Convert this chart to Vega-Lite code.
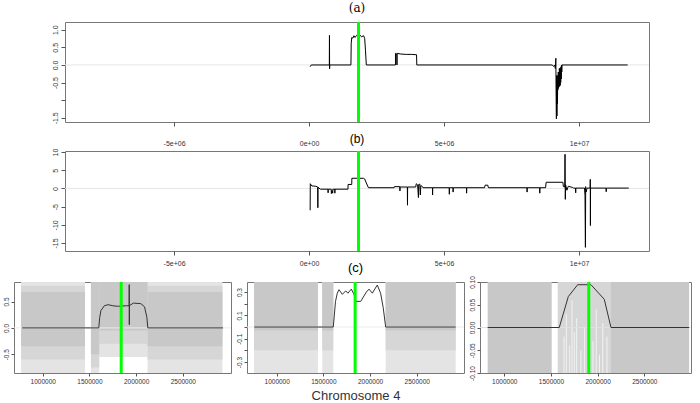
{
  "$schema": "https://vega.github.io/schema/vega-lite/v6.json",
  "padding": {"left": 2, "top": 1, "right": 0, "bottom": 0},
  "background": "white",
  "config": {
    "font": "Liberation Sans",
    "view": {"stroke": "#777777", "strokeWidth": 1},
    "axis": {"domain": false, "grid": false, "tickColor": "#555555", "tickSize": 4, "labelFontSize": 7, "labelColor": "#333333", "labelFont": "Liberation Sans", "title": null},
    "title": {"fontWeight": "normal", "color": "#000000", "font": "Liberation Sans"}
  },
  "datasets": {
    "zero": [{"y": 0}],
    "marker": [{"x": 1830000}],
    "marker_c": [{"x": 1840000}],
    "marker_c3": [{"x": 1905000}],
    "a_line": [
      {"x": 40000, "y": -0.05}, {"x": 80000, "y": 0}, {"x": 750000, "y": 0}, {"x": 755000, "y": 0.84}, {"x": 760000, "y": -0.11}, {"x": 765000, "y": 0},
      {"x": 1550000, "y": 0}, {"x": 1560000, "y": 0.6}, {"x": 1580000, "y": 0.78}, {"x": 1620000, "y": 0.76}, {"x": 1660000, "y": 0.83}, {"x": 1700000, "y": 0.78}, {"x": 1760000, "y": 0.84}, {"x": 1820000, "y": 0.8}, {"x": 1880000, "y": 0.85}, {"x": 1940000, "y": 0.8}, {"x": 2020000, "y": 0.83}, {"x": 2060000, "y": 0.75}, {"x": 2090000, "y": 0.4}, {"x": 2120000, "y": 0},
      {"x": 3200000, "y": 0}, {"x": 3201000, "y": 0.33}, {"x": 3220000, "y": 0.32}, {"x": 3250000, "y": 0.31}, {"x": 3255000, "y": 0}, {"x": 3260000, "y": 0.33}, {"x": 3400000, "y": 0.31}, {"x": 3600000, "y": 0.3}, {"x": 3800000, "y": 0.3}, {"x": 3980000, "y": 0.29}, {"x": 3990000, "y": 0},
      {"x": 9000000, "y": 0}, {"x": 9060000, "y": -0.04}, {"x": 9100000, "y": 0}, {"x": 9120000, "y": -0.1}, {"x": 9140000, "y": 0.19}, {"x": 9150000, "y": -0.9}, {"x": 9160000, "y": -1.53}, {"x": 9170000, "y": -0.3}, {"x": 9180000, "y": -1.45}, {"x": 9190000, "y": -0.5}, {"x": 9200000, "y": -1.1}, {"x": 9210000, "y": -0.3}, {"x": 9220000, "y": -0.7}, {"x": 9230000, "y": -0.2}, {"x": 9240000, "y": -0.65}, {"x": 9250000, "y": -0.2}, {"x": 9260000, "y": -0.62}, {"x": 9270000, "y": -0.1}, {"x": 9280000, "y": -0.6}, {"x": 9290000, "y": -0.1}, {"x": 9300000, "y": -0.58}, {"x": 9310000, "y": -0.1}, {"x": 9320000, "y": -0.5}, {"x": 9330000, "y": -0.05}, {"x": 9340000, "y": -0.4}, {"x": 9350000, "y": 0}, {"x": 9360000, "y": -0.2}, {"x": 9370000, "y": 0},
      {"x": 11800000, "y": 0}
    ],
    "b_line": [
      {"x": 40000, "y": -6.0}, {"x": 45000, "y": 1.3}, {"x": 100000, "y": 0.7}, {"x": 250000, "y": 0.6}, {"x": 320000, "y": 0.4}, {"x": 325000, "y": -5.3}, {"x": 330000, "y": 0.3}, {"x": 420000, "y": -0.2},
      {"x": 700000, "y": -0.2}, {"x": 705000, "y": -1.2}, {"x": 710000, "y": -0.2}, {"x": 820000, "y": -0.2}, {"x": 825000, "y": -1.4}, {"x": 850000, "y": -0.6}, {"x": 875000, "y": -1.3}, {"x": 880000, "y": -0.2}, {"x": 950000, "y": -0.2}, {"x": 955000, "y": -1.3}, {"x": 960000, "y": -0.2},
      {"x": 1440000, "y": -0.2}, {"x": 1445000, "y": 1.1}, {"x": 1580000, "y": 1.1}, {"x": 1585000, "y": 2.8}, {"x": 2020000, "y": 2.8}, {"x": 2060000, "y": 2.6}, {"x": 2120000, "y": 1.5}, {"x": 2200000, "y": 0.2},
      {"x": 3150000, "y": 0.2}, {"x": 3160000, "y": 0.5}, {"x": 3360000, "y": 0.5}, {"x": 3365000, "y": -0.7}, {"x": 3370000, "y": 0.4}, {"x": 3640000, "y": 0.4}, {"x": 3645000, "y": -4.6}, {"x": 3650000, "y": 0.4},
      {"x": 3950000, "y": 0.4}, {"x": 3970000, "y": 1.3}, {"x": 4020000, "y": 1.0}, {"x": 4050000, "y": -2.5}, {"x": 4060000, "y": 1.1}, {"x": 4100000, "y": 1.2}, {"x": 4120000, "y": -1.8}, {"x": 4140000, "y": 0.8}, {"x": 4200000, "y": 0.5}, {"x": 4220000, "y": 0.2},
      {"x": 4570000, "y": 0.2}, {"x": 4575000, "y": -1.8}, {"x": 4580000, "y": 0.2}, {"x": 5190000, "y": 0.2}, {"x": 5195000, "y": -1.6}, {"x": 5200000, "y": 0.2}, {"x": 5330000, "y": 0.2}, {"x": 5335000, "y": -1.0}, {"x": 5340000, "y": 0.2}, {"x": 5830000, "y": 0.2}, {"x": 5835000, "y": -1.3}, {"x": 5840000, "y": 0.2},
      {"x": 6500000, "y": 0.2}, {"x": 6520000, "y": 0.9}, {"x": 6620000, "y": 0.9}, {"x": 6640000, "y": 0.2},
      {"x": 8070000, "y": 0.2}, {"x": 8075000, "y": -1.0}, {"x": 8080000, "y": 0.2}, {"x": 8540000, "y": 0.2}, {"x": 8545000, "y": -1.3}, {"x": 8550000, "y": 0.2},
      {"x": 8760000, "y": 0.2}, {"x": 8780000, "y": 1.7}, {"x": 9400000, "y": 1.7}, {"x": 9420000, "y": 0.5}, {"x": 9470000, "y": 0.4}, {"x": 9480000, "y": 9.4}, {"x": 9490000, "y": -3.0}, {"x": 9500000, "y": 1.0}, {"x": 9550000, "y": -0.5}, {"x": 9600000, "y": 0.6}, {"x": 9750000, "y": 0.3}, {"x": 9800000, "y": 0.1},
      {"x": 9870000, "y": 0.1}, {"x": 9875000, "y": -1.2}, {"x": 9880000, "y": 0.1}, {"x": 10200000, "y": 0.1}, {"x": 10220000, "y": -2.0}, {"x": 10235000, "y": -16.2}, {"x": 10245000, "y": 0.5}, {"x": 10260000, "y": -1.0}, {"x": 10300000, "y": 0.1},
      {"x": 10410000, "y": 0.1}, {"x": 10415000, "y": 2.5}, {"x": 10420000, "y": -10.2}, {"x": 10425000, "y": 0.1}, {"x": 11000000, "y": 0.1}, {"x": 11005000, "y": -0.9}, {"x": 11010000, "y": 0.1}, {"x": 11840000, "y": 0.1}
    ],
    "c1_line": [
      {"x": 780000, "y": 0}, {"x": 1600000, "y": 0}, {"x": 1610000, "y": 0.2}, {"x": 1623000, "y": 0.33}, {"x": 1660000, "y": 0.42}, {"x": 1700000, "y": 0.44}, {"x": 1750000, "y": 0.42}, {"x": 1800000, "y": 0.41}, {"x": 1900000, "y": 0.42},
      {"x": 1925000, "y": 0.42}, {"x": 1926000, "y": 0.82}, {"x": 1927000, "y": 0.06}, {"x": 1928000, "y": 0.42},
      {"x": 1970000, "y": 0.47}, {"x": 2050000, "y": 0.46}, {"x": 2090000, "y": 0.4}, {"x": 2115000, "y": 0.2}, {"x": 2125000, "y": 0}, {"x": 2930000, "y": 0}
    ],
    "c1_bands": [
      {"x": 768000, "x2": 1452000, "y": -0.855, "y2": 0.87, "level": "outer"},
      {"x": 1516000, "x2": 1605000, "y": -0.855, "y2": 0.87, "level": "outer"},
      {"x": 1605000, "x2": 2122000, "y": -0.55, "y2": 0.87, "level": "outer"},
      {"x": 2122000, "x2": 2924000, "y": -0.855, "y2": 0.87, "level": "outer"},
      {"x": 768000, "x2": 1452000, "y": -0.6, "y2": 0.8, "level": "mid"},
      {"x": 1516000, "x2": 1605000, "y": -0.75, "y2": 0.87, "level": "mid"},
      {"x": 1605000, "x2": 2122000, "y": -0.3, "y2": 0.87, "level": "mid"},
      {"x": 2122000, "x2": 2924000, "y": -0.6, "y2": 0.8, "level": "mid"},
      {"x": 768000, "x2": 1452000, "y": -0.35, "y2": 0.68, "level": "inner"},
      {"x": 1516000, "x2": 1605000, "y": -0.5, "y2": 0.87, "level": "inner"},
      {"x": 1605000, "x2": 2122000, "y": -0.05, "y2": 0.87, "level": "inner"},
      {"x": 2122000, "x2": 2924000, "y": -0.35, "y2": 0.68, "level": "inner"}
    ],
    "c2_line": [
      {"x": 760000, "y": 0}, {"x": 1606000, "y": 0}, {"x": 1630000, "y": 0.22}, {"x": 1649000, "y": 0.29}, {"x": 1667000, "y": 0.32}, {"x": 1703000, "y": 0.28}, {"x": 1739000, "y": 0.31}, {"x": 1763000, "y": 0.29}, {"x": 1799000, "y": 0.325}, {"x": 1828000, "y": 0.28}, {"x": 1850000, "y": 0.22}, {"x": 1900000, "y": 0.22}, {"x": 1960000, "y": 0.3}, {"x": 1989000, "y": 0.325}, {"x": 2024000, "y": 0.29}, {"x": 2077000, "y": 0.36}, {"x": 2113000, "y": 0.29}, {"x": 2141000, "y": 0.165}, {"x": 2167000, "y": 0}, {"x": 2917000, "y": 0}
    ],
    "c2_bands": [
      {"x": 757000, "x2": 1442000, "y": -0.394, "y2": 0.386, "level": "outer"},
      {"x": 1488000, "x2": 1606000, "y": -0.394, "y2": 0.386, "level": "outer"},
      {"x": 2167000, "x2": 2917000, "y": -0.394, "y2": 0.386, "level": "outer"},
      {"x": 757000, "x2": 1442000, "y": -0.2, "y2": 0.386, "level": "mid"},
      {"x": 1488000, "x2": 1606000, "y": -0.2, "y2": 0.386, "level": "mid"},
      {"x": 2167000, "x2": 2917000, "y": -0.2, "y2": 0.386, "level": "mid"},
      {"x": 757000, "x2": 1442000, "y": -0.03, "y2": 0.386, "level": "inner"},
      {"x": 1488000, "x2": 1606000, "y": -0.03, "y2": 0.386, "level": "inner"},
      {"x": 2167000, "x2": 2917000, "y": -0.03, "y2": 0.386, "level": "inner"}
    ],
    "c3_line": [
      {"x": 822000, "y": 0}, {"x": 1589000, "y": 0}, {"x": 1686000, "y": 0.068}, {"x": 1786000, "y": 0.094}, {"x": 1929000, "y": 0.094}, {"x": 2071000, "y": 0.062}, {"x": 2143000, "y": 0}, {"x": 2980000, "y": 0}
    ],
    "c3_bands": [
      {"x": 822000, "x2": 1508000, "y": -0.1, "y2": 0.1, "level": "inner"},
      {"x": 1572000, "x2": 2143000, "y": -0.1, "y2": 0.1, "level": "mid"},
      {"x": 2143000, "x2": 2980000, "y": -0.1, "y2": 0.1, "level": "inner"}
    ],
    "c3_streaks": [
      {"x": 1640000, "y": -0.1, "y2": -0.02}, {"x": 1665000, "y": -0.1, "y2": 0.03}, {"x": 1700000, "y": -0.1, "y2": -0.04}, {"x": 1725000, "y": -0.1, "y2": 0.06},
      {"x": 1750000, "y": -0.1, "y2": -0.01}, {"x": 1775000, "y": -0.1, "y2": 0.02}, {"x": 1820000, "y": -0.1, "y2": -0.05}, {"x": 1860000, "y": -0.1, "y2": 0.0},
      {"x": 1950000, "y": -0.1, "y2": -0.03}, {"x": 1985000, "y": -0.1, "y2": 0.04}, {"x": 2020000, "y": -0.1, "y2": -0.06}, {"x": 2055000, "y": -0.1, "y2": 0.01}, {"x": 2100000, "y": -0.1, "y2": -0.02}
    ]
  },
  "spacing": -6,
  "vconcat": [
    {
      "spacing": -15,
      "vconcat": [
        {
          "bounds": "flush",
          "spacing": 0,
          "hconcat": [
            {"width": 51, "height": 100, "view": {"stroke": null}, "data": {"values": [{"v": 0}]}, "mark": {"type": "point", "opacity": 0}, "encoding": {}},
            {
              "width": 584, "height": 100,
              "title": {"text": "(a)", "fontSize": 12, "offset": 6, "font": "DejaVu Serif"},
              "layer": [
                {"data": {"name": "zero"}, "mark": {"type": "rule", "color": "#e6e6e6", "strokeWidth": 1}, "encoding": {"y": {"field": "y", "type": "quantitative", "scale": {"domain": [-1.62, 1.22], "nice": false, "zero": false},
                   "axis": {"values": [-1.5, -1, -0.5, 0, 0.5, 1], "labelExpr": "datum.value == -1 ? '' : (datum.value < 0 ? '-' : '') + format(abs(datum.value), '.1f')", "labelAngle": 270, "labelAlign": "center", "labelBaseline": "bottom", "labelPadding": 3, "title": null}}}},
                {"data": {"name": "a_line"}, "mark": {"type": "line", "color": "#000000", "strokeWidth": 1},
                 "encoding": {
                   "x": {"field": "x", "type": "quantitative", "scale": {"domain": [-9040000, 12590000], "nice": false, "zero": false},
                         "axis": {"values": [-5000000, 0, 5000000, 10000000], "labelExpr": "datum.value == 0 ? '0e+00' : datum.value == 5000000 ? '5e+06' : datum.value == 10000000 ? '1e+07' : '-5e+06'", "title": null, "labelPadding": 13}},
                   "y": {"field": "y", "type": "quantitative",
                         "axis": {"values": [-1.5, -1, -0.5, 0, 0.5, 1], "labelExpr": "datum.value == -1 ? '' : (datum.value < 0 ? '-' : '') + format(abs(datum.value), '.1f')", "labelAngle": 270, "labelAlign": "center", "labelBaseline": "bottom", "labelPadding": 3, "title": null}}
                 }},
                {"data": {"name": "marker"}, "mark": {"type": "rule", "color": "#00ff00", "strokeWidth": 3}, "encoding": {"x": {"field": "x", "type": "quantitative",
                   "axis": {"values": [-5000000, 0, 5000000, 10000000], "labelExpr": "datum.value == 0 ? '0e+00' : datum.value == 5000000 ? '5e+06' : datum.value == 10000000 ? '1e+07' : '-5e+06'", "title": null, "labelPadding": 13}}}}
              ]
            }
          ]
        },
        {
          "bounds": "flush",
          "spacing": 0,
          "hconcat": [
            {"width": 51, "height": 100, "view": {"stroke": null}, "data": {"values": [{"v": 0}]}, "mark": {"type": "point", "opacity": 0}, "encoding": {}},
            {
              "width": 584, "height": 100,
              "title": {"text": "(b)", "fontSize": 12, "offset": 2},
              "layer": [
                {"data": {"name": "zero"}, "mark": {"type": "rule", "color": "#e6e6e6", "strokeWidth": 1}, "encoding": {"y": {"field": "y", "type": "quantitative", "scale": {"domain": [-17.2, 10.3], "nice": false, "zero": false},
                   "axis": {"values": [-15, -10, -5, 0, 5, 10], "labelExpr": "(datum.value < 0 ? '-' : '') + format(abs(datum.value), 'd')", "labelAngle": 270, "labelAlign": "center", "labelBaseline": "bottom", "labelPadding": 3, "title": null}}}},
                {"data": {"name": "b_line"}, "mark": {"type": "line", "color": "#000000", "strokeWidth": 1},
                 "encoding": {
                   "x": {"field": "x", "type": "quantitative", "scale": {"domain": [-9040000, 12590000], "nice": false, "zero": false},
                         "axis": {"values": [-5000000, 0, 5000000, 10000000], "labelExpr": "datum.value == 0 ? '0e+00' : datum.value == 5000000 ? '5e+06' : datum.value == 10000000 ? '1e+07' : '-5e+06'", "title": null, "labelPadding": 4.5}},
                   "y": {"field": "y", "type": "quantitative",
                         "axis": {"values": [-15, -10, -5, 0, 5, 10], "labelExpr": "(datum.value < 0 ? '-' : '') + format(abs(datum.value), 'd')", "labelAngle": 270, "labelAlign": "center", "labelBaseline": "bottom", "labelPadding": 3, "title": null}}
                 }},
                {"data": {"name": "marker"}, "mark": {"type": "rule", "color": "#00ff00", "strokeWidth": 3}, "encoding": {"x": {"field": "x", "type": "quantitative",
                   "axis": {"values": [-5000000, 0, 5000000, 10000000], "labelExpr": "datum.value == 0 ? '0e+00' : datum.value == 5000000 ? '5e+06' : datum.value == 10000000 ? '1e+07' : '-5e+06'", "title": null, "labelPadding": 4.5}}}}
              ]
            }
          ]
        }
      ]
    },
    {
      "bounds": "flush",
      "spacing": 16,
      "hconcat": [
        {
          "width": 217, "height": 91,
          "layer": [
            {"data": {"name": "c1_bands"}, "mark": {"type": "rect"},
             "encoding": {
               "x": {"field": "x", "type": "quantitative", "scale": {"domain": [692000, 3016000], "nice": false, "zero": false},
                     "axis": {"values": [1000000, 1500000, 2000000, 2500000], "format": "d", "title": null, "tickSize": 3, "labelPadding": 2, "labelFontSize": 6.5}},
               "x2": {"field": "x2"},
               "y": {"field": "y", "type": "quantitative", "scale": {"domain": [-0.855, 0.87], "nice": false, "zero": false},
                     "axis": {"values": [-0.5, 0, 0.5], "labelExpr": "(datum.value < 0 ? '-' : '') + format(abs(datum.value), '.1f')", "labelAngle": 270, "labelAlign": "center", "labelBaseline": "bottom", "labelPadding": 2, "tickSize": 3, "labelFontSize": 6.5, "title": null}},
               "y2": {"field": "y2"},
               "color": {"field": "level", "type": "nominal", "scale": {"domain": ["outer", "mid", "inner"], "range": ["#e4e4e4", "#d6d6d6", "#c8c8c8"]}, "legend": null}
             }},
            {"data": {"name": "zero"}, "mark": {"type": "rule", "color": "#ececec", "strokeWidth": 1}, "encoding": {"y": {"field": "y", "type": "quantitative",
               "axis": {"values": [-0.5, 0, 0.5], "labelExpr": "(datum.value < 0 ? '-' : '') + format(abs(datum.value), '.1f')", "labelAngle": 270, "labelAlign": "center", "labelBaseline": "bottom", "labelPadding": 2, "tickSize": 3, "labelFontSize": 6.5, "title": null}}}},
            {"data": {"name": "c1_line"}, "mark": {"type": "line", "color": "#333333", "strokeWidth": 1},
             "encoding": {
               "x": {"field": "x", "type": "quantitative", "axis": {"values": [1000000, 1500000, 2000000, 2500000], "format": "d", "title": null, "tickSize": 3, "labelPadding": 2, "labelFontSize": 6.5}},
               "y": {"field": "y", "type": "quantitative", "axis": {"values": [-0.5, 0, 0.5], "labelExpr": "(datum.value < 0 ? '-' : '') + format(abs(datum.value), '.1f')", "labelAngle": 270, "labelAlign": "center", "labelBaseline": "bottom", "labelPadding": 2, "tickSize": 3, "labelFontSize": 6.5, "title": null}}
             }},
            {"data": {"name": "marker_c"}, "mark": {"type": "rule", "color": "#00ff00", "strokeWidth": 3}, "encoding": {"x": {"field": "x", "type": "quantitative",
               "axis": {"values": [1000000, 1500000, 2000000, 2500000], "format": "d", "title": null, "tickSize": 3, "labelPadding": 2, "labelFontSize": 6.5}}}}
          ]
        },
        {
          "width": 217, "height": 91,
          "title": {"text": "(c)", "fontSize": 13, "offset": 6},
          "layer": [
            {"data": {"name": "c2_bands"}, "mark": {"type": "rect"},
             "encoding": {
               "x": {"field": "x", "type": "quantitative", "scale": {"domain": [682000, 3006000], "nice": false, "zero": false},
                     "axis": {"values": [1000000, 1500000, 2000000, 2500000], "format": "d", "title": "Chromosome 4", "titleFontSize": 13, "titleFontWeight": "normal", "titleColor": "#333333", "titlePadding": 5, "tickSize": 3, "labelPadding": 2, "labelFontSize": 6.5}},
               "x2": {"field": "x2"},
               "y": {"field": "y", "type": "quantitative", "scale": {"domain": [-0.394, 0.386], "nice": false, "zero": false},
                     "axis": {"values": [-0.3, -0.2, -0.1, 0, 0.1, 0.2, 0.3], "labelExpr": "abs(datum.value) < 0.05 || abs(abs(datum.value) - 0.2) < 0.05 ? '' : (datum.value < 0 ? '-' : '') + format(abs(datum.value), '.1f')", "labelAngle": 270, "labelAlign": "center", "labelBaseline": "bottom", "labelPadding": 2, "tickSize": 3, "labelFontSize": 6.5, "title": null}},
               "y2": {"field": "y2"},
               "color": {"field": "level", "type": "nominal", "scale": {"domain": ["outer", "mid", "inner"], "range": ["#e6e6e6", "#d6d6d6", "#c8c8c8"]}, "legend": null}
             }},
            {"data": {"name": "zero"}, "mark": {"type": "rule", "color": "#ececec", "strokeWidth": 1}, "encoding": {"y": {"field": "y", "type": "quantitative",
               "axis": {"values": [-0.3, -0.2, -0.1, 0, 0.1, 0.2, 0.3], "labelExpr": "abs(datum.value) < 0.05 || abs(abs(datum.value) - 0.2) < 0.05 ? '' : (datum.value < 0 ? '-' : '') + format(abs(datum.value), '.1f')", "labelAngle": 270, "labelAlign": "center", "labelBaseline": "bottom", "labelPadding": 2, "tickSize": 3, "labelFontSize": 6.5, "title": null}}}},
            {"data": {"name": "c2_line"}, "mark": {"type": "line", "color": "#333333", "strokeWidth": 1},
             "encoding": {
               "x": {"field": "x", "type": "quantitative", "axis": {"values": [1000000, 1500000, 2000000, 2500000], "format": "d", "title": "Chromosome 4", "titleFontSize": 13, "titleFontWeight": "normal", "titleColor": "#333333", "titlePadding": 5, "tickSize": 3, "labelPadding": 2, "labelFontSize": 6.5}},
               "y": {"field": "y", "type": "quantitative", "axis": {"values": [-0.3, -0.2, -0.1, 0, 0.1, 0.2, 0.3], "labelExpr": "abs(datum.value) < 0.05 || abs(abs(datum.value) - 0.2) < 0.05 ? '' : (datum.value < 0 ? '-' : '') + format(abs(datum.value), '.1f')", "labelAngle": 270, "labelAlign": "center", "labelBaseline": "bottom", "labelPadding": 2, "tickSize": 3, "labelFontSize": 6.5, "title": null}}
             }},
            {"data": {"name": "marker_c"}, "mark": {"type": "rule", "color": "#00ff00", "strokeWidth": 3}, "encoding": {"x": {"field": "x", "type": "quantitative",
               "axis": {"values": [1000000, 1500000, 2000000, 2500000], "format": "d", "title": "Chromosome 4", "titleFontSize": 13, "titleFontWeight": "normal", "titleColor": "#333333", "titlePadding": 5, "tickSize": 3, "labelPadding": 2, "labelFontSize": 6.5}}}}
          ]
        },
        {
          "width": 211, "height": 91,
          "layer": [
            {"data": {"name": "c3_bands"}, "mark": {"type": "rect"},
             "encoding": {
               "x": {"field": "x", "type": "quantitative", "scale": {"domain": [740000, 3000000], "nice": false, "zero": false},
                     "axis": {"values": [1000000, 1500000, 2000000, 2500000], "format": "d", "title": null, "tickSize": 3, "labelPadding": 2, "labelFontSize": 6.5}},
               "x2": {"field": "x2"},
               "y": {"field": "y", "type": "quantitative", "scale": {"domain": [-0.1, 0.1], "nice": false, "zero": false},
                     "axis": {"values": [-0.1, -0.05, 0, 0.05, 0.1], "labelExpr": "(datum.value < 0 ? '-' : '') + format(abs(datum.value), '.2f')", "labelAngle": 270, "labelAlign": "center", "labelBaseline": "bottom", "labelPadding": 2, "tickSize": 3, "labelFontSize": 6.5, "title": null}},
               "y2": {"field": "y2"},
               "color": {"field": "level", "type": "nominal", "scale": {"domain": ["outer", "mid", "inner"], "range": ["#e6e6e6", "#d4d4d4", "#c8c8c8"]}, "legend": null}
             }},
            {"data": {"name": "c3_streaks"}, "mark": {"type": "rule", "color": "#f2f2f2", "strokeWidth": 1},
             "encoding": {
               "x": {"field": "x", "type": "quantitative", "axis": {"values": [1000000, 1500000, 2000000, 2500000], "format": "d", "title": null, "tickSize": 3, "labelPadding": 2, "labelFontSize": 6.5}},
               "y": {"field": "y", "type": "quantitative", "axis": {"values": [-0.1, -0.05, 0, 0.05, 0.1], "labelExpr": "(datum.value < 0 ? '-' : '') + format(abs(datum.value), '.2f')", "labelAngle": 270, "labelAlign": "center", "labelBaseline": "bottom", "labelPadding": 2, "tickSize": 3, "labelFontSize": 6.5, "title": null}},
               "y2": {"field": "y2"}
             }},
            {"data": {"name": "zero"}, "mark": {"type": "rule", "color": "#e0e0e0", "strokeWidth": 1}, "encoding": {"y": {"field": "y", "type": "quantitative",
               "axis": {"values": [-0.1, -0.05, 0, 0.05, 0.1], "labelExpr": "(datum.value < 0 ? '-' : '') + format(abs(datum.value), '.2f')", "labelAngle": 270, "labelAlign": "center", "labelBaseline": "bottom", "labelPadding": 2, "tickSize": 3, "labelFontSize": 6.5, "title": null}}}},
            {"data": {"name": "c3_line"}, "mark": {"type": "line", "color": "#333333", "strokeWidth": 1},
             "encoding": {
               "x": {"field": "x", "type": "quantitative", "axis": {"values": [1000000, 1500000, 2000000, 2500000], "format": "d", "title": null, "tickSize": 3, "labelPadding": 2, "labelFontSize": 6.5}},
               "y": {"field": "y", "type": "quantitative", "axis": {"values": [-0.1, -0.05, 0, 0.05, 0.1], "labelExpr": "(datum.value < 0 ? '-' : '') + format(abs(datum.value), '.2f')", "labelAngle": 270, "labelAlign": "center", "labelBaseline": "bottom", "labelPadding": 2, "tickSize": 3, "labelFontSize": 6.5, "title": null}}
             }},
            {"data": {"name": "marker_c3"}, "mark": {"type": "rule", "color": "#00ff00", "strokeWidth": 3}, "encoding": {"x": {"field": "x", "type": "quantitative",
               "axis": {"values": [1000000, 1500000, 2000000, 2500000], "format": "d", "title": null, "tickSize": 3, "labelPadding": 2, "labelFontSize": 6.5}}}}
          ]
        }
      ]
    }
  ]
}
